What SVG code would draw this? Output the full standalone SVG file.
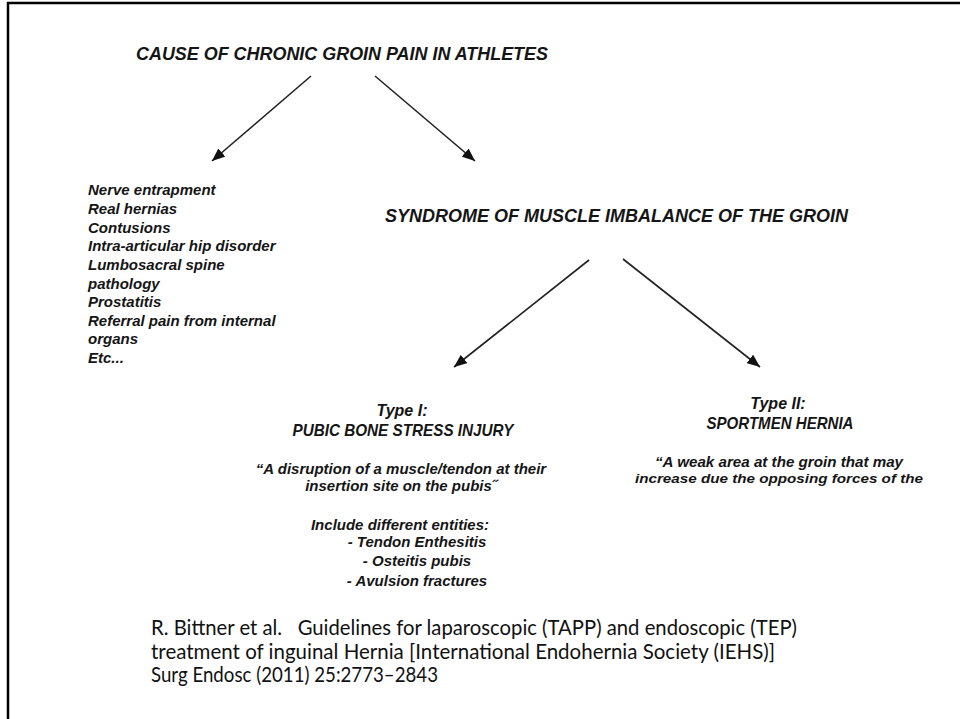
<svg xmlns="http://www.w3.org/2000/svg" width="960" height="719" viewBox="0 0 960 719">
<style>
.d{font-family:"Liberation Sans",Arial,sans-serif;font-weight:bold;font-style:italic;fill:#151515}
.c{text-anchor:middle}
.f{font-family:Lato,"Open Sans","Liberation Sans",sans-serif;font-size:20.5px;fill:#111}
.conn line{stroke:#222;stroke-width:1.6;marker-end:url(#ah)}
</style>
<defs>
<marker id="ah" viewBox="0 0 12 10" refX="12" refY="5" markerWidth="13" markerHeight="11" markerUnits="userSpaceOnUse" orient="auto">
<path d="M0,0 L12,5 L0,10 z" fill="#111"/>
</marker>
</defs>
<rect width="960" height="719" fill="#fff"/>
<g id="frame" stroke="#000" stroke-width="2.5">
<line x1="7" y1="3" x2="960" y2="3"/>
<line x1="8" y1="2" x2="8" y2="719"/>
</g>
<g id="n-cause"><text class="d" x="136" y="60" font-size="18" textLength="412" lengthAdjust="spacingAndGlyphs">CAUSE OF CHRONIC GROIN PAIN IN ATHLETES</text></g>
<g id="n-list" class="d" font-size="15">
<text x="88" y="195">Nerve entrapment</text>
<text x="88" y="214">Real hernias</text>
<text x="88" y="233">Contusions</text>
<text x="88" y="251">Intra-articular hip disorder</text>
<text x="88" y="270">Lumbosacral spine</text>
<text x="88" y="289">pathology</text>
<text x="88" y="307">Prostatitis</text>
<text x="88" y="326">Referral pain from internal</text>
<text x="88" y="344">organs</text>
<text x="88" y="363">Etc...</text>
</g>
<g id="n-syndrome"><text class="d" x="385" y="222" font-size="18">SYNDROME OF MUSCLE IMBALANCE OF THE GROIN</text></g>
<g id="n-type1" class="d c">
<text x="402" y="416" font-size="16">Type I:</text>
<text x="403" y="436" font-size="16.5" textLength="221" lengthAdjust="spacingAndGlyphs">PUBIC BONE STRESS INJURY</text>
<text x="401" y="474" font-size="15">“A disruption of a muscle/tendon at their</text>
<text x="401" y="491" font-size="15">insertion site on the pubis˝</text>
<text x="400" y="530" font-size="15">Include different entities:</text>
<text x="417" y="547" font-size="15">- Tendon Enthesitis</text>
<text x="417" y="566" font-size="15">- Osteitis pubis</text>
<text x="417" y="586" font-size="15">- Avulsion fractures</text>
</g>
<g id="n-type2" class="d c">
<text x="778" y="409" font-size="16">Type II:</text>
<text x="780" y="429" font-size="16.5" textLength="147" lengthAdjust="spacingAndGlyphs">SPORTMEN HERNIA</text>
<text x="779" y="467" font-size="15" textLength="248" lengthAdjust="spacingAndGlyphs">“A weak area at the groin that may</text>
<text x="779" y="483" font-size="12.5" textLength="288" lengthAdjust="spacingAndGlyphs">increase due the opposing forces of the</text>
</g>
<g id="n-ref" class="f">
<text x="151" y="635" xml:space="preserve" textLength="646" lengthAdjust="spacingAndGlyphs">R. Bittner et al.   Guidelines for laparoscopic (TAPP) and endoscopic (TEP)</text>
<text x="151" y="659" textLength="624" lengthAdjust="spacingAndGlyphs">treatment of inguinal Hernia [International Endohernia Society (IEHS)]</text>
<text x="151" y="682" textLength="287" lengthAdjust="spacingAndGlyphs">Surg Endosc (2011) 25:2773–2843</text>
</g>
<g id="connectors" class="conn">
<line x1="311" y1="76" x2="212" y2="161"/>
<line x1="375" y1="76" x2="475" y2="161"/>
<line x1="589" y1="260" x2="454" y2="367"/>
<line x1="623" y1="259" x2="760" y2="367"/>
</g>
</svg>
